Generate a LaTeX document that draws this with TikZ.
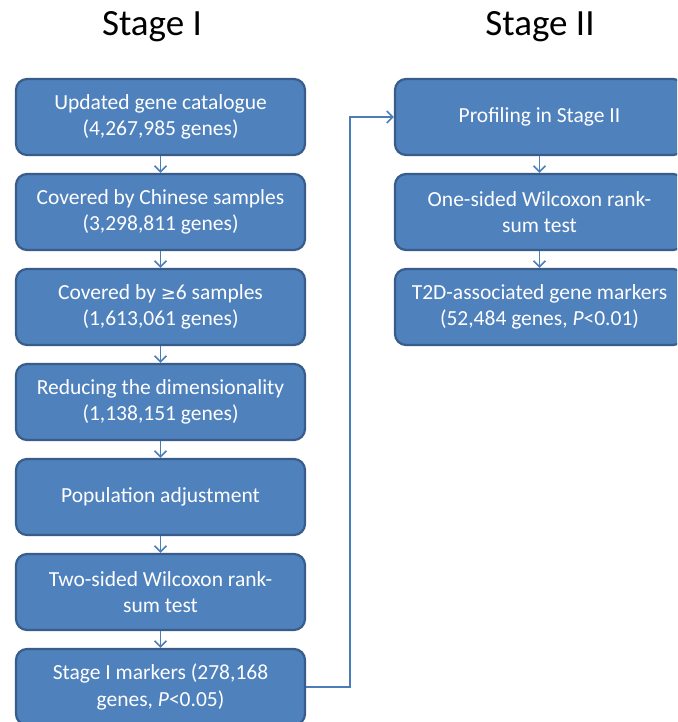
\documentclass[tikz,border=0pt]{standalone}
\usepackage{fontspec}
\setmainfont{Carlito}
\usetikzlibrary{arrows.meta}
\definecolor{boxfill}{HTML}{4F81BD}
\definecolor{boxline}{HTML}{385D8A}
\definecolor{arrcol}{HTML}{4A7EBB}
\tikzset{
  stepbox/.style={draw=boxline, line width=2.2pt, fill=boxfill, rounded corners=11pt,
    minimum width=289pt, minimum height=76pt, text=white, align=center, inner sep=0pt,
    font=\fontsize{21.5}{26.5}\selectfont},
  arr/.style={draw=arrcol, line width=1.6pt, -{Straight Barb[length=6pt,width=12pt]}},
  title/.style={font=\fontsize{37}{40}\selectfont, text=black, anchor=base}
}
\begin{document}
\begin{tikzpicture}[x=1pt,y=-1pt]
\clip (0,0) rectangle (677,722);
\fill[white] (0,0) rectangle (677,722);
\node[title] (t1) at (152,36) {Stage I};
\node[title] (t2) at (540,36) {Stage II};
\node[stepbox] (a1) at (160.5,117) {Updated gene catalogue\\(4,267,985 genes)};
\node[stepbox] (a2) at (160.5,212) {Covered by Chinese samples\\(3,298,811 genes)};
\node[stepbox] (a3) at (160.5,307) {Covered by \fontspec{DejaVu Sans}\fontsize{18}{26.5}\selectfont≥\fontspec{Carlito}\fontsize{21.5}{26.5}\selectfont6 samples\\(1,613,061 genes)};
\node[stepbox] (a4) at (160.5,402) {Reducing the dimensionality\\(1,138,151 genes)};
\node[stepbox] (a5) at (160.5,497) {Population adjustment};
\node[stepbox] (a6) at (160.5,592) {Two-sided Wilcoxon rank-\\sum test};
\node[stepbox] (a7) at (160.5,687) {Stage I markers (278,168\\genes, \textit{P}<0.05)};
\node[stepbox] (b1) at (539.5,117) {Profiling in Stage II};
\node[stepbox] (b2) at (539.5,212) {One-sided Wilcoxon rank-\\sum test};
\node[stepbox] (b3) at (539.5,307) {T2D-associated gene markers\\(52,484 genes, \textit{P}<0.01)};
\draw[arr] (a1) -- (a2);
\draw[arr] (a2) -- (a3);
\draw[arr] (a3) -- (a4);
\draw[arr] (a4) -- (a5);
\draw[arr] (a5) -- (a6);
\draw[arr] (a6) -- (a7);
\draw[arr] (b1) -- (b2);
\draw[arr] (b2) -- (b3);
\draw[arr] (a7.east) -- ++(44,0) |- (b1.west);
\end{tikzpicture}
\end{document}
